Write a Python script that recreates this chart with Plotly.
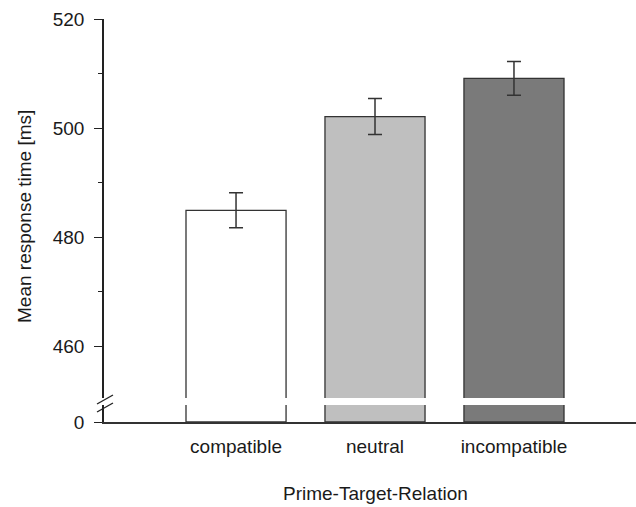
import plotly.graph_objects as go

# Mean response times per prime-target relation
categories = ["compatible", "neutral", "incompatible"]
mean_rt = [484.9, 502.1, 509.1]
sem_rt = [3.2, 3.3, 3.1]
bar_colors = ["#ffffff", "#bfbfbf", "#7a7a7a"]

W, H = 636, 507
# plot area in pixels
L, R, T, B = 104, 636, 19, 422
PH = B - T
top_lo_px, bot_hi_px = 398, 405   # axis break gap


def py(p):
    return (B - p) / PH


def px(p):
    return (p - L) / (R - L)


ppu = 5.45  # pixels per ms on the upper axis
top_min = 520 - (top_lo_px - T) / ppu

fig = go.Figure()
fig.add_trace(go.Bar(
    x=categories, y=mean_rt, yaxis="y", xaxis="x",
    marker=dict(color=bar_colors, line=dict(color="#333333", width=1.3)),
    width=0.72,
    error_y=dict(type="data", array=sem_rt, color="#333333", thickness=1.5, width=7),
    showlegend=False,
))
fig.add_trace(go.Bar(
    x=categories, y=mean_rt, yaxis="y2", xaxis="x",
    marker=dict(color=bar_colors, line=dict(color="#333333", width=1.3)),
    width=0.72, showlegend=False,
))

font = dict(family="Liberation Sans, Arial, sans-serif", size=19, color="#1a1a1a")

fig.update_layout(
    width=W, height=H,
    margin=dict(l=L, r=W - R, t=T, b=H - B),
    paper_bgcolor="white", plot_bgcolor="white",
    font=font,
    xaxis=dict(
        anchor="y2", range=[-0.95, 2.878], showline=True, linecolor="#333333", linewidth=1.6,
        ticks="", showgrid=False, zeroline=False, ticklabelstandoff=6,
        tickfont=font,
    ),
    yaxis=dict(
        domain=[py(top_lo_px), 1], range=[top_min, 520], anchor="x",
        tickvals=[460, 480, 500, 520], showline=True, linecolor="#222222", linewidth=1.6,
        ticks="outside", ticklen=8, tickwidth=1.4, tickcolor="#222222",
        minor=dict(tickvals=[470, 490, 510], ticks="outside", ticklen=4, tickwidth=1.2,
                   tickcolor="#222222"),
        showgrid=False, zeroline=False, ticklabelstandoff=6, tickfont=font,
    ),
    yaxis2=dict(
        domain=[0, py(bot_hi_px)], range=[0, 10], anchor="x",
        tickvals=[0], showline=True, linecolor="#222222", linewidth=1.6,
        ticks="outside", ticklen=8, tickwidth=1.4, tickcolor="#222222",
        showgrid=False, zeroline=False, ticklabelstandoff=6, tickfont=font,
    ),
    annotations=[
        dict(text="Prime-Target-Relation", xref="paper", yref="paper",
             x=px(375), y=py(493), xanchor="center", yanchor="middle",
             showarrow=False, font=font),
        dict(text="Mean response time [ms]", xref="paper", yref="paper",
             x=px(24), y=py(217), xanchor="center", yanchor="middle",
             showarrow=False, textangle=-90, font=font),
    ],
)

# axis break marks
for dy in (0, 8):
    fig.add_shape(type="line", xref="paper", yref="paper",
                  x0=px(97), y0=py(404 + dy), x1=px(113), y1=py(395 + dy),
                  line=dict(color="#222222", width=1.4))

fig.write_html("out.html")
